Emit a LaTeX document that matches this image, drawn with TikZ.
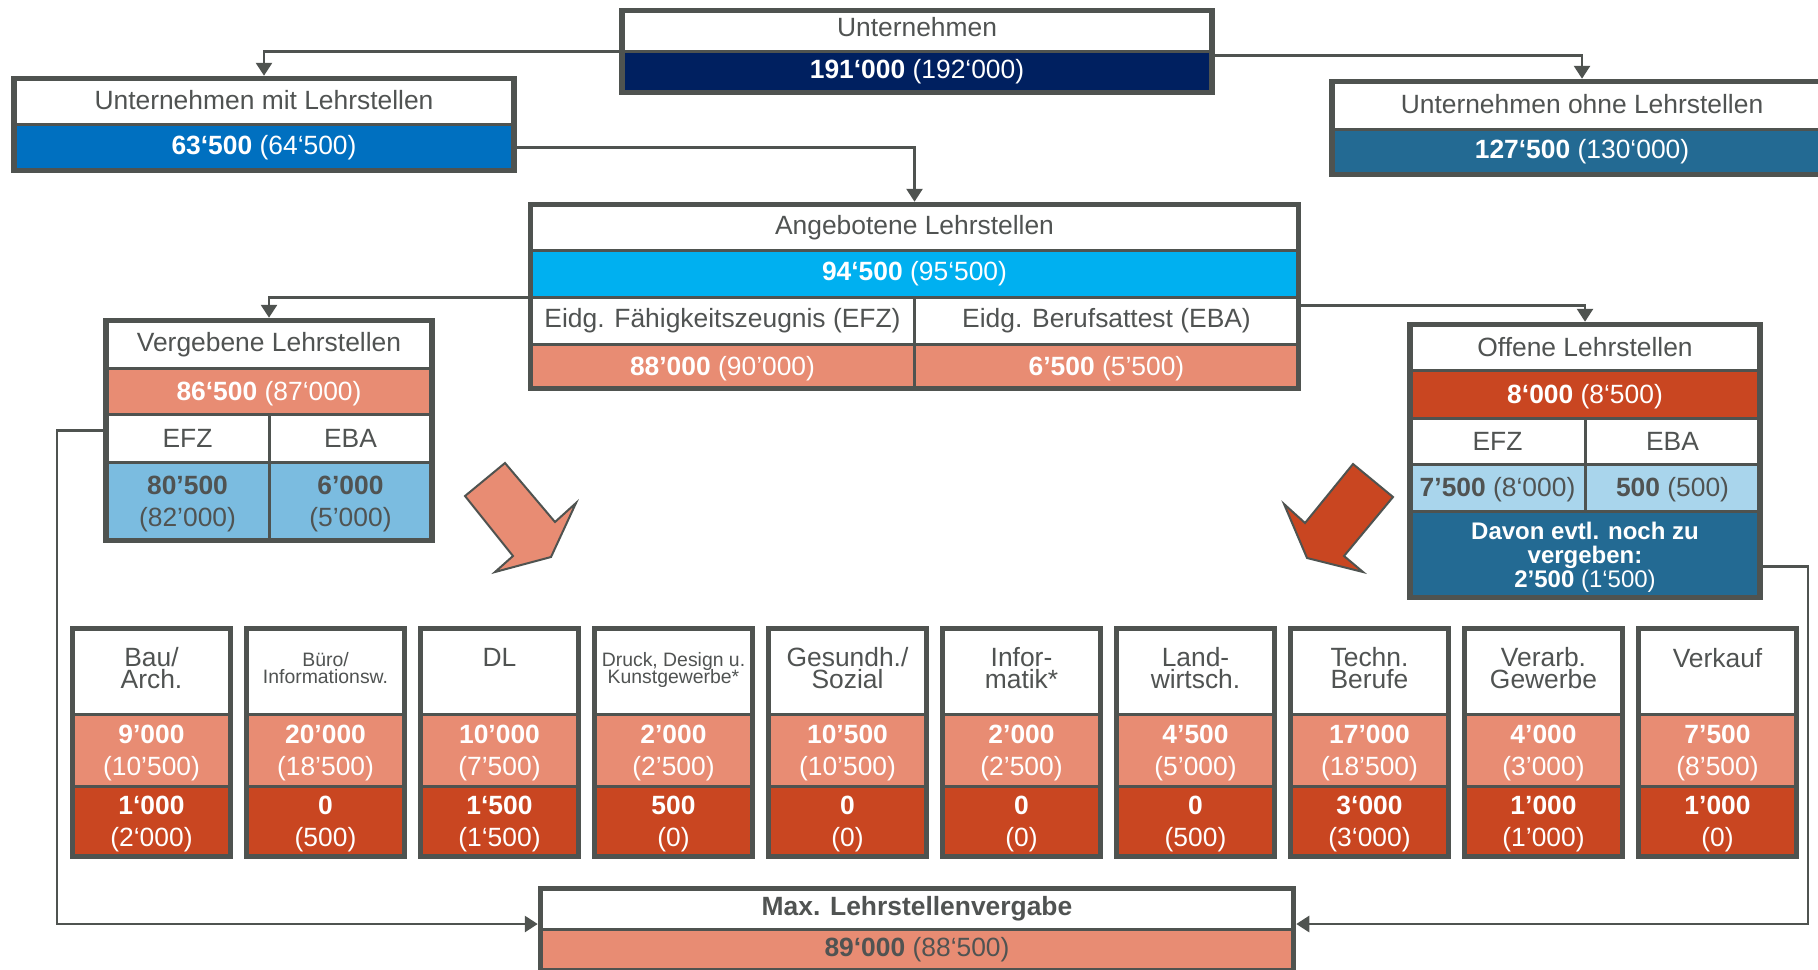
\documentclass[tikz,border=0pt]{standalone}
\usepackage{fontspec}
\setmainfont{Liberation Sans}
\usepackage{tikz}
\usepackage{xcolor}
\usetikzlibrary{positioning,arrows.meta,fit}
\definecolor{cFrame}{HTML}{4F5350}
\definecolor{cText}{HTML}{505352}
\definecolor{cNavy}{HTML}{002060}
\definecolor{cBlue}{HTML}{0070C0}
\definecolor{cTeal}{HTML}{236A93}
\definecolor{cCyan}{HTML}{00B0F0}
\definecolor{cSalmon}{HTML}{E88C73}
\definecolor{cRust}{HTML}{C94621}
\definecolor{cLtBlue}{HTML}{7BBCE0}
\definecolor{cPale}{HTML}{A9D5EC}
\newcommand{\boxfont}{\fontsize{13.2}{16}\selectfont}
\newcommand{\catfont}{\fontsize{13.2}{11}\selectfont\lineskiplimit=-20pt\relax}
\newcommand{\catsmall}{\fontsize{9.7}{8.5}\selectfont\lineskiplimit=-20pt\relax}
\newcommand{\davonfont}{\fontsize{12}{12}\selectfont\lineskiplimit=-20pt\relax}

\begin{document}
\begin{tikzpicture}[
  x=0.5pt, y=-0.5pt,
  cell/.style={rectangle, draw=cFrame, line width=1.5pt, fill=white,
              inner sep=0pt, outer sep=0pt, align=center,
              text=cText, font=\boxfont},
  boxframe/.style={rectangle, draw=cFrame, line width=2.75pt, inner sep=0pt},
  cat/.style={cell, minimum width=79pt, minimum height=43pt},
  catlt/.style={cell, minimum width=79pt, minimum height=36pt, fill=cSalmon, text=white, text depth=0pt},
  catdk/.style={cell, minimum width=79pt, minimum height=35pt, fill=cRust, text=white, text depth=0pt},
  cattxt/.style={inner sep=0pt, align=center, text=cText, font=\catfont},
  arr/.style={draw=cFrame, line width=1.4pt, -{Triangle[length=6.5pt, width=8pt]}},
  bigarr/.style={draw=cFrame, line width=1pt, line join=miter},
]
\useasboundingbox (0,0) rectangle (1818,969);
\clip (0,0) rectangle (1818,969);

% Unternehmen
\node[cell, anchor=north, minimum width=295pt, minimum height=20.5pt, text depth=4pt] (unt) at (917,10.5) {Unternehmen};
\node[cell, below=0pt of unt, minimum width=295pt, minimum height=20.5pt, fill=cNavy, text=white] (untV) {\textbf{191‘000} (192‘000)};
\node[boxframe, fit=(unt)(untV)] (untF) {};

% Unternehmen mit / ohne Lehrstellen
\node[cell, anchor=north, minimum width=250pt, minimum height=23pt, text depth=2pt] (mit) at (264,78.5) {Unternehmen mit Lehrstellen};
\node[cell, below=0pt of mit, minimum width=250pt, minimum height=23pt, fill=cBlue, text=white] (mitV) {\textbf{63‘500} (64‘500)};
\node[boxframe, fit=(mit)(mitV)] (mitF) {};

\node[cell, anchor=north, minimum width=250pt, minimum height=24pt, text depth=2pt] (ohne) at (1582,81.5) {Unternehmen ohne Lehrstellen};
\node[cell, below=0pt of ohne, minimum width=250pt, minimum height=22.5pt, fill=cTeal, text=white] (ohneV) {\textbf{127‘500} (130‘000)};
\node[boxframe, fit=(ohne)(ohneV)] (ohneF) {};

% Angebotene Lehrstellen
\node[cell, anchor=north, minimum width=384pt, minimum height=23pt] (ang) at (914.5,204.5) {Angebotene Lehrstellen};
\node[cell, below=0pt of ang, minimum width=384pt, minimum height=23.5pt, fill=cCyan, text=white] (angV) {\textbf{94‘500} (95‘500)};
\node[cell, below right=0pt of angV.south west, minimum width=192pt, minimum height=23.5pt] (angEFZ) {Eidg. Fähigkeitszeugnis (EFZ)};
\node[cell, right=0pt of angEFZ, minimum width=192pt, minimum height=23.5pt] (angEBA) {Eidg. Berufsattest (EBA)};
\node[cell, below=0pt of angEFZ, minimum width=192pt, minimum height=22pt, fill=cSalmon, text=white, text depth=1pt] (angEFZv) {\textbf{88’000} (90’000)};
\node[cell, below=0pt of angEBA, minimum width=192pt, minimum height=22pt, fill=cSalmon, text=white, text depth=1pt] (angEBAv) {\textbf{6’500} (5’500)};
\node[boxframe, fit=(ang)(angEBAv)] (angF) {};

% Vergebene Lehrstellen
\node[cell, anchor=north, minimum width=163pt, minimum height=24pt] (verg) at (269,320.5) {Vergebene Lehrstellen};
\node[cell, below=0pt of verg, minimum width=163pt, minimum height=23pt, fill=cSalmon, text=white, text depth=1pt] (vergV) {\textbf{86‘500} (87‘000)};
\node[cell, below right=0pt of vergV.south west, minimum width=81.5pt, minimum height=24pt] (vergEFZ) {EFZ};
\node[cell, right=0pt of vergEFZ, minimum width=81.5pt, minimum height=24pt] (vergEBA) {EBA};
\node[cell, below=0pt of vergEFZ, minimum width=81.5pt, minimum height=39pt, fill=cLtBlue, text depth=0pt] (vergEFZv) {\textbf{80’500}\\(82'000)};
\node[cell, below=0pt of vergEBA, minimum width=81.5pt, minimum height=39pt, fill=cLtBlue, text depth=0pt] (vergEBAv) {\textbf{6’000}\\(5'000)};
\node[boxframe, fit=(verg)(vergEBAv)] (vergF) {};

% Offene Lehrstellen
\node[cell, anchor=north, minimum width=175pt, minimum height=23pt] (off) at (1585,324.5) {Offene Lehrstellen};
\node[cell, below=0pt of off, minimum width=175pt, minimum height=24pt, fill=cRust, text=white, text depth=1pt] (offV) {\textbf{8‘000} (8‘500)};
\node[cell, below right=0pt of offV.south west, minimum width=87.5pt, minimum height=23pt] (offEFZ) {EFZ};
\node[cell, right=0pt of offEFZ, minimum width=87.5pt, minimum height=23pt] (offEBA) {EBA};
\node[cell, below=0pt of offEFZ, minimum width=87.5pt, minimum height=23.5pt, fill=cPale, text depth=1pt] (offEFZv) {\textbf{7’500} (8‘000)};
\node[cell, below=0pt of offEBA, minimum width=87.5pt, minimum height=23.5pt, fill=cPale, text depth=1pt] (offEBAv) {\textbf{500} (500)};
\node[cell, below right=0pt of offEFZv.south west, minimum width=175pt, minimum height=43pt, fill=cTeal, text=white, text depth=0pt, font=\davonfont] (offD) {\textbf{Davon evtl. noch zu}\\\textbf{vergeben:}\\\textbf{2’500} (1‘500)};
\node[boxframe, fit=(off)(offD)] (offF) {};

% Big arrows
\draw[bigarr, fill=cSalmon] (465,496) -- (505,463) -- (555,522) -- (576,503) -- (551,557) -- (495,572) -- (513,556) -- cycle;
\draw[bigarr, fill=cRust] (1353,464) -- (1393,497) -- (1344,556) -- (1363,572) -- (1307,558) -- (1284,504) -- (1305,523) -- cycle;

% Berufsfelder
\node[cat, anchor=north] (c1) at (151.5,628.5) {};
\node[cattxt, below=9pt of c1.north] (c1t) {Bau/\\Arch.};
\node[catlt, below=0pt of c1] (c1a) {\textbf{9’000}\\(10’500)};
\node[catdk, below=0pt of c1a] (c1b) {\textbf{1‘000}\\(2‘000)};
\node[boxframe, fit=(c1)(c1b)] (c1f) {};

\node[cat, right=8pt of c1] (c2) {};
\node[cattxt, font=\catsmall, below=12pt of c2.north] (c2t) {Büro/\\Informationsw.};
\node[catlt, below=0pt of c2] (c2a) {\textbf{20’000}\\(18’500)};
\node[catdk, below=0pt of c2a] (c2b) {\textbf{0}\\(500)};
\node[boxframe, fit=(c2)(c2b)] (c2f) {};

\node[cat, right=8pt of c2] (c3) {};
\node[cattxt, below=9.5pt of c3.north] (c3t) {DL};
\node[catlt, below=0pt of c3] (c3a) {\textbf{10’000}\\(7’500)};
\node[catdk, below=0pt of c3a] (c3b) {\textbf{1‘500}\\(1‘500)};
\node[boxframe, fit=(c3)(c3b)] (c3f) {};

\node[cat, right=8pt of c3] (c4) {};
\node[cattxt, font=\catsmall, below=12pt of c4.north] (c4t) {Druck, Design u.\\Kunstgewerbe*};
\node[catlt, below=0pt of c4] (c4a) {\textbf{2’000}\\(2’500)};
\node[catdk, below=0pt of c4a] (c4b) {\textbf{500}\\(0)};
\node[boxframe, fit=(c4)(c4b)] (c4f) {};

\node[cat, right=8pt of c4] (c5) {};
\node[cattxt, below=9pt of c5.north] (c5t) {Gesundh./\\Sozial};
\node[catlt, below=0pt of c5] (c5a) {\textbf{10’500}\\(10’500)};
\node[catdk, below=0pt of c5a] (c5b) {\textbf{0}\\(0)};
\node[boxframe, fit=(c5)(c5b)] (c5f) {};

\node[cat, right=8pt of c5] (c6) {};
\node[cattxt, below=9pt of c6.north] (c6t) {Infor-\\matik*};
\node[catlt, below=0pt of c6] (c6a) {\textbf{2’000}\\(2’500)};
\node[catdk, below=0pt of c6a] (c6b) {\textbf{0}\\(0)};
\node[boxframe, fit=(c6)(c6b)] (c6f) {};

\node[cat, right=8pt of c6] (c7) {};
\node[cattxt, below=9pt of c7.north] (c7t) {Land-\\wirtsch.};
\node[catlt, below=0pt of c7] (c7a) {\textbf{4’500}\\(5’000)};
\node[catdk, below=0pt of c7a] (c7b) {\textbf{0}\\(500)};
\node[boxframe, fit=(c7)(c7b)] (c7f) {};

\node[cat, right=8pt of c7] (c8) {};
\node[cattxt, below=9pt of c8.north] (c8t) {Techn.\\Berufe};
\node[catlt, below=0pt of c8] (c8a) {\textbf{17’000}\\(18’500)};
\node[catdk, below=0pt of c8a] (c8b) {\textbf{3‘000}\\(3‘000)};
\node[boxframe, fit=(c8)(c8b)] (c8f) {};

\node[cat, right=8pt of c8] (c9) {};
\node[cattxt, below=9pt of c9.north] (c9t) {Verarb.\\Gewerbe};
\node[catlt, below=0pt of c9] (c9a) {\textbf{4’000}\\(3’000)};
\node[catdk, below=0pt of c9a] (c9b) {\textbf{1'000}\\(1’000)};
\node[boxframe, fit=(c9)(c9b)] (c9f) {};

\node[cat, right=8pt of c9] (c10) {};
\node[cattxt, below=9.5pt of c10.north] (c10t) {Verkauf};
\node[catlt, below=0pt of c10] (c10a) {\textbf{7’500}\\(8’500)};
\node[catdk, below=0pt of c10a] (c10b) {\textbf{1’000}\\(0)};
\node[boxframe, fit=(c10)(c10b)] (c10f) {};

% Max. Lehrstellenvergabe
\node[cell, anchor=north, minimum width=376.5pt, minimum height=20.25pt, font=\boxfont\bfseries] (max) at (917,888.5) {Max. Lehrstellenvergabe};
\node[cell, below=0pt of max, minimum width=376.5pt, minimum height=21pt, fill=cSalmon] (maxV) {\textbf{89‘000} (88‘500)};
\node[boxframe, fit=(max)(maxV)] (maxF) {};

% Arrows
\coordinate (lft) at (57,924);
\coordinate (rgt) at (1808,924);
\draw[arr] (untV.north west) -| (mitF.north);
\draw[arr] ([yshift=-2pt]untV.north east) -| (ohneF.north);
\draw[arr] (mitV.east) -| (angF.north);
\draw[arr] (angV.south west) -| (vergF.north);
\draw[arr] ([yshift=-4pt]angV.south east) -| (offF.north);
\draw[arr] ([yshift=4pt]vergEFZ.west) -| (lft) -- (lft -| maxF.west);
\draw[arr] ([yshift=-6pt]offD.east) -| (rgt) -- (rgt -| maxF.east);

\end{tikzpicture}
\end{document}
